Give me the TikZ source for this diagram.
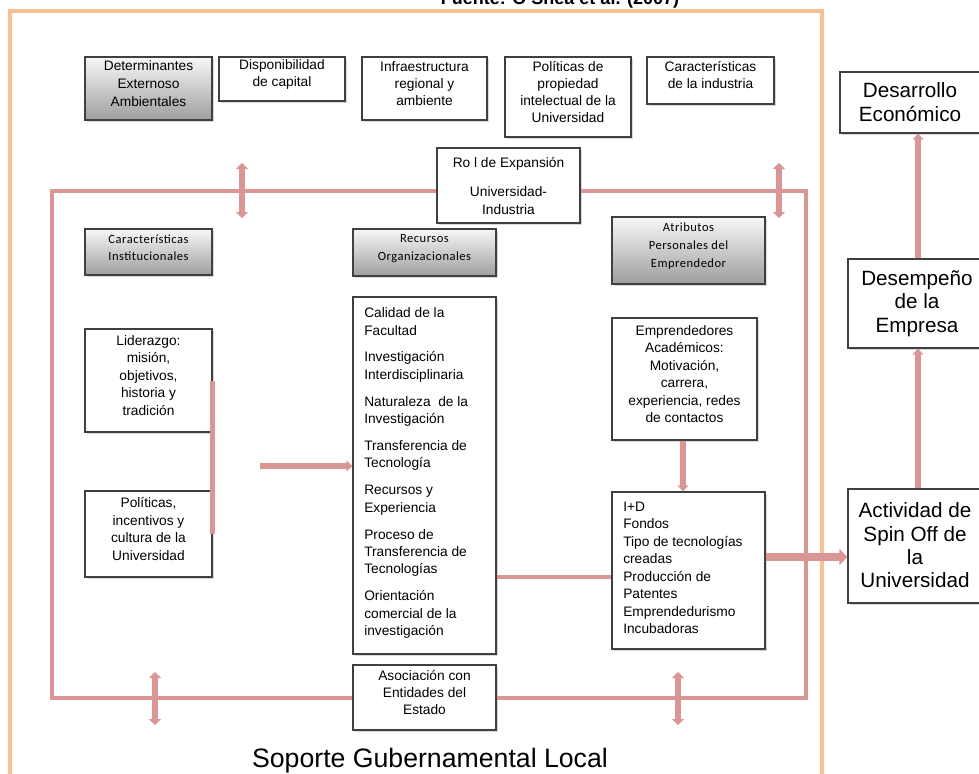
\documentclass[tikz,border=0pt]{standalone}
\usepackage{fontspec}
\setmainfont{Liberation Sans}
\newfontfamily\calfont[LetterSpace=4]{Carlito}
\usetikzlibrary{fit,arrows.meta,shadows}

\definecolor{pinkline}{HTML}{D99694}
\definecolor{orangeline}{HTML}{FAC090}
\definecolor{boxline}{HTML}{404040}

\begin{document}
\begin{tikzpicture}[x=0.75pt,y=-0.75pt,
  plainbox/.style={draw=boxline, line width=0.9pt, fill=white, inner sep=0pt,
    align=center, drop shadow={shadow xshift=1.2pt, shadow yshift=-1.2pt, opacity=0.3}},
  graybox/.style={plainbox, top color=black!3, bottom color=black!38},
  toptext/.style={font=\fontsize{10.3}{12.75}\selectfont},
  bodytext/.style={font=\fontsize{10.3}{13.1}\selectfont},
  caltext/.style={font=\calfont\fontsize{9.4}{13.3}\selectfont},
  bigtext/.style={font=\fontsize{15.5}{17.5}\selectfont, align=center},
  pkline/.style={draw=pinkline, line width=2.3pt},
  pkconn/.style={draw=pinkline, line width=3pt},
  pkarrow/.style={draw=pinkline, line width=3.8pt, -{Triangle[width=8pt,length=4.5pt]}},
  dblarrow/.style={draw=pinkline, line width=4.5pt,
    {Triangle[width=9pt,length=4.5pt]}-{Triangle[width=9pt,length=4.5pt]}},
  bigarrow/.style={draw=pinkline, line width=6pt, -{Triangle[width=12pt,length=6pt]}}
]
\useasboundingbox (0,0) rectangle (979,774);
\clip (0,0) rectangle (979,774);

% outer frame of the local government support
\draw[orangeline, line width=2.3pt] (10,11) rectangle (822,800);

% source line, running off the top edge
\node[font=\bfseries\fontsize{13.5}{15}\selectfont, anchor=base] (src) at (560,4.5)
  {Fuente: O'Shea et al. (2007)};

% external environmental determinants
\node[graybox, toptext, fit={(85,57)(212,120)}] (det)
  {Determinantes\\[1pt]Externoso\\[1pt]Ambientales};
\node[plainbox, toptext, fit={(219,57)(345,101)}] (disp) {Disponibilidad\\de capital};
\node[plainbox, toptext, fit={(362,57)(487,120)}] (infra) {Infraestructura\\regional y\\ambiente};
\node[plainbox, toptext, fit={(505,57)(631,137)}] (polip)
  {Políticas de\\propiedad\\intelectual de la\\Universidad};
\node[plainbox, toptext, fit={(647,57)(774,104)}] (carind) {Características\\de la industria};

% university--industry expansion role
\node[plainbox, fit={(437,148)(580,223)}] (rol) {};
\node[bodytext, align=center] (rolT) at (508.5,186)
  {Ro l de Expansión\\[9pt]Universidad-\\Industria};

% section headings
\node[graybox, caltext, fit={(85,229)(212,275)}] (carinst) {Características\\Institucionales};
\node[graybox, caltext, fit={(353,229)(496,276)}] (recorg) {Recursos\\Organizacionales};
\node[graybox, caltext, fit={(612,217)(765,284)}] (atr)
  {Atributos\\Personales del\\Emprendedor};

% institutional characteristics
\node[plainbox, bodytext, fit={(85,329)(212,432)}] (lid)
  {Liderazgo:\\misión,\\objetivos,\\historia y\\tradición};
\node[plainbox, bodytext, fit={(85,491)(212,577)}] (polu)
  {Políticas,\\incentivos y\\cultura de la\\Universidad};

% organisational resources
\node[plainbox, fit={(353,297)(496,654)}] (rec) {};
\node[bodytext, align=left, anchor=north west, inner sep=0pt] (recT) at (364,307.5)
  {Calidad de la\\Facultad\\[7pt]
   Investigación\\Interdisciplinaria\\[7pt]
   Naturaleza\ \ de la\\Investigación\\[7pt]
   Transferencia de\\Tecnología\\[7pt]
   Recursos y\\Experiencia\\[7pt]
   Proceso de\\Transferencia de\\Tecnologías\\[7pt]
   Orientación\\comercial de la\\investigación};

% personal attributes of the entrepreneur
\node[plainbox, bodytext, fit={(612,318)(757,440)}] (emp)
  {Emprendedores\\Académicos:\\Motivación,\\carrera,\\experiencia, redes\\de contactos};
\node[plainbox, fit={(612,492)(765,649)}] (id) {};
\node[bodytext, align=left, anchor=north west, inner sep=0pt] (idT) at (623,501.5)
  {I+D\\Fondos\\Tipo de tecnologías\\creadas\\Producción de\\Patentes\\Emprendedurismo\\Incubadoras};

% association with the state
\node[plainbox, toptext, fit={(353,665)(496,730)}] (asoc)
  {Asociación con\\Entidades del\\Estado};

% outcomes
\node[plainbox, fit={(840,72)(990,133)}] (dev) {};
\node[bigtext] (devT) at (910,102) {Desarrollo\\Económico};
\node[plainbox, fit={(848,259)(990,348)}] (des) {};
\node[bigtext] (desT) at (917,303.5) {Desempeño\\de la\\Empresa};
\node[plainbox, fit={(848,489)(990,603)}] (act) {};
\node[bigtext] (actT) at (915,545.5) {Actividad de\\Spin Off de\\la\\Universidad};

% inner support frame
\coordinate (fTL) at (52,191);
\coordinate (fBL) at (52,698);
\coordinate (fTR) at (806,191);
\coordinate (fBR) at (806,698);
\draw[pkline] (rol.west |- fTL) -- (fTL) -- (fBL) -- (asoc.west |- fBL);
\draw[pkline] (rol.east |- fTR) -- (fTR) -- (fBR) -- (asoc.east |- fBR);

% exchanges across the frame
\coordinate (d1a) at (242,163); \coordinate (d1b) at (242,218);
\coordinate (d2a) at (779,163); \coordinate (d2b) at (779,218);
\coordinate (d3a) at (155,672); \coordinate (d3b) at (155,725);
\coordinate (d4a) at (678,672); \coordinate (d4b) at (678,725);
\draw[dblarrow] (d1a) -- (d1b);
\draw[dblarrow] (d2a) -- (d2b);
\draw[dblarrow] (d3a) -- (d3b);
\draw[dblarrow] (d4a) -- (d4b);

% flows between blocks
\draw[pkconn, line width=3.5pt] (lid.east) -- (polu.east);
\coordinate (inst) at (260,466);
\draw[pkarrow] (inst) -- (rec.west |- inst);
\coordinate (ex) at (683,0);
\draw[pkarrow] (emp.south -| ex) -- (id.north -| ex);
\coordinate (ry) at (0,577);
\draw[pkconn] (rec.east |- ry) -- (id.west |- ry);
\coordinate (ay) at (0,557);
\draw[bigarrow] (id.east |- ay) -- (act.west |- ay);
\coordinate (ax) at (918,0);
\draw[pkarrow] (act.north -| ax) -- (des.south -| ax);
\draw[pkarrow] (des.north -| ax) -- (dev.south -| ax);

% caption of the outer frame
\node[font=\fontsize{20}{24}\selectfont, anchor=base] (sgl) at (430,767)
  {Soporte Gubernamental Local};
\end{tikzpicture}
\end{document}
